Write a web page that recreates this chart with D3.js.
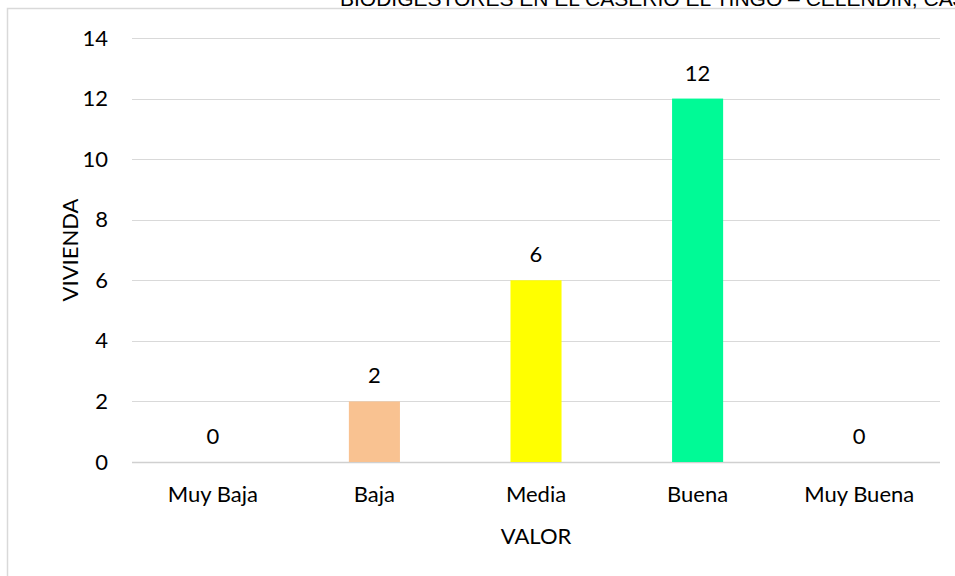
<!DOCTYPE html>
<html>
<head>
<meta charset="utf-8">
<script src="https://cdn.jsdelivr.net/npm/d3@7"></script>
<style>
  body { margin: 0; background: #fff; }
  text { font-family: Lato, "Open Sans", sans-serif; }
</style>
</head>
<body>
<div id="viz"></div>
<script>
// data
var categories = ["Muy Baja", "Baja", "Media", "Buena", "Muy Buena"];
var values = [0, 2, 6, 12, 0];
var barColors = ["#4472c4", "#f9c291", "#ffff00", "#00fa96", "#4472c4"];
var yTicks = [0, 2, 4, 6, 8, 10, 12, 14];
var titleText = "BIODIGESTORES EN EL CASERIO EL TINGO – CELENDIN, CAJAMARCA";

var W = 955, H = 576;
var margin = {top: 38, right: 15, bottom: 114, left: 132},
    width = W - margin.left - margin.right,
    height = H - margin.top - margin.bottom;

var fontSize = "22px";

var svg = d3.select('#viz').append('svg')
    .attr("width", W)
    .attr("height", H);

// chart frame (only left and top edges visible)
svg.append("rect")
    .attr("x", 7.5).attr("y", 8.5)
    .attr("width", W + 20).attr("height", H + 20)
    .attr("fill", "none")
    .attr("stroke", "#d9d9d9")
    .attr("stroke-width", 1.5);

// clipped title at the top
svg.append("text")
    .attr("x", 340)
    .attr("y", 6)
    .style("font-family", "'Liberation Sans', Arial, sans-serif")
    .style("font-size", "21px")
    .attr("fill", "#000")
    .text(titleText);

var x = d3.scaleBand()
    .domain(categories)
    .range([0, width])
    .paddingInner(0.684)
    .paddingOuter(0.342);

var y = d3.scaleLinear()
    .domain([0, 14])
    .range([height, 0]);

var g = svg.append("g")
    .attr("transform", "translate(" + margin.left + "," + margin.top + ")");

// gridlines
g.selectAll("line.grid")
    .data(yTicks)
    .enter().append("line")
        .attr("class", "grid")
        .attr("x1", 0).attr("x2", width)
        .attr("y1", function(d) { return Math.round(y(d)) + 0.5; })
        .attr("y2", function(d) { return Math.round(y(d)) + 0.5; })
        .attr("stroke", function(d) { return d === 0 ? "#d0d0d0" : "#d9d9d9"; })
        .attr("stroke-width", function(d) { return d === 0 ? 1.5 : 1; });

// y axis labels
g.append("g")
    .call(d3.axisLeft(y).tickValues(yTicks).tickSize(0).tickPadding(24))
    .call(function(a) { a.select(".domain").remove(); })
    .selectAll("text")
        .style("font-family", "Lato, 'Open Sans', sans-serif")
        .style("font-size", fontSize)
        .attr("fill", "#000");

// x axis labels
g.append("g")
    .attr("transform", "translate(0," + height + ")")
    .call(d3.axisBottom(x).tickSize(0).tickPadding(24))
    .call(function(a) { a.select(".domain").remove(); })
    .selectAll("text")
        .style("font-family", "Lato, 'Open Sans', sans-serif")
        .style("font-size", fontSize)
        .attr("fill", "#000");

// bars
g.selectAll("rect.bar")
    .data(values)
    .enter().append("rect")
        .attr("class", "bar")
        .attr("x", function(d, i) { return x(categories[i]); })
        .attr("y", function(d) { return y(d); })
        .attr("width", x.bandwidth())
        .attr("height", function(d) { return height - y(d); })
        .attr("fill", function(d, i) { return barColors[i]; });

// value labels
g.selectAll("text.val")
    .data(values)
    .enter().append("text")
        .attr("class", "val")
        .attr("x", function(d, i) { return x(categories[i]) + x.bandwidth() / 2; })
        .attr("y", function(d) { return y(d) - 18; })
        .attr("text-anchor", "middle")
        .style("font-size", fontSize)
        .attr("fill", "#000")
        .text(function(d) { return d; });

// axis titles
g.append("text")
    .attr("transform", "rotate(-90)")
    .attr("x", -(y(7)))
    .attr("y", -62)
    .attr("dy", "0.35em")
    .style("text-anchor", "middle")
    .style("font-size", fontSize)
    .text("VIVIENDA");

g.append("text")
    .attr("x", width / 2)
    .attr("y", height + 82)
    .style("text-anchor", "middle")
    .style("font-size", fontSize)
    .text("VALOR");
</script>
</body>
</html>
